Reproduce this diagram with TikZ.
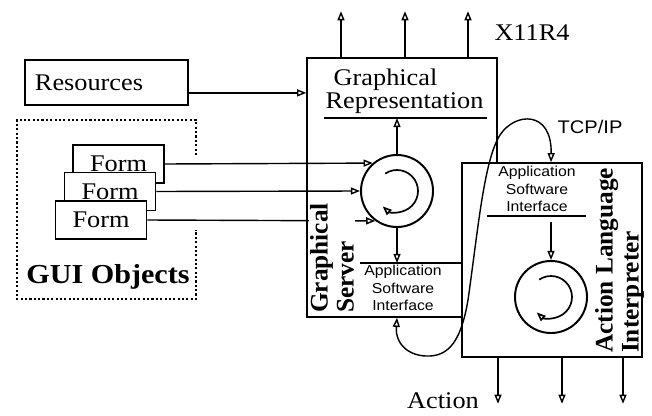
\documentclass[tikz,border=0pt]{standalone}
\usepackage{fontspec}
\setmainfont{Liberation Serif}[FakeStretch=1.1]
\setsansfont{Liberation Sans}[FakeStretch=1.1]
\newfontfamily\sidefont{Liberation Serif}
\usetikzlibrary{arrows.meta}
\tikzset{>={Triangle[open,length=6.5pt,width=5pt]}}
\newcommand{\figfont}{\fontsize{17}{16.3}\selectfont}
\tikzset{
  box/.style={draw,line width=1.1pt,inner sep=0pt},
  formbox/.style={box,fill=white,minimum width=2.275cm,minimum height=0.95cm,font=\figfont},
  loopcircle/.style={circle,draw,line width=1.4pt,minimum size=1.8cm,inner sep=0pt},
  asitext/.style={align=center,inner sep=0pt,font=\sffamily\fontsize{10.2}{12.6}\selectfont},
  sidelabel/.style={rotate=90,anchor=north west,align=left,inner sep=1pt,
    font=\sidefont\bfseries\fontsize{18}{18.5}\selectfont},
  dotframe/.style={line width=1.6pt,dash pattern=on 1.5pt off 1.6pt}
}

\begin{document}
\begin{tikzpicture}[x=0.025cm,y=-0.025cm,line width=1pt]
\useasboundingbox (0,0) rectangle (652,415);

\node[box,minimum width=4.075cm,minimum height=1.125cm,text width=3.575cm,align=left,font=\figfont] (res) at (106.5,82.5) {Resources};

% GUI objects
\draw[dotframe] (196,155) |- (17,120) |- (196,299) -- (196,230);
\node[font=\bfseries\fontsize{19.5}{20}\selectfont] (gui) at (108,277) {GUI Objects};
\node[formbox] (form1) at (118.5,164) {Form};
\node[formbox] (form2) at (110,191.5) {Form};
\node[formbox] (form3) at (101,220) {Form};

% graphical server
\node[loopcircle] (gsloop) at (397,191) {};
\draw[->,line width=1.2pt] ([shift={(-124:21)}]gsloop.center) arc[start angle=-124,end angle=133,radius=21];
\draw[->] (form1.east) -- (gsloop.131);
\draw[->] (form2.east) -- (gsloop.180);
\draw[->] (form3.east) -- (gsloop.234);
\node[sidelabel,fill=white] (gslabel) at (308,315) {Graphical\\Server};
\node[box,minimum width=4.75cm,minimum height=6.475cm] (gs) at (402,187.5) {};
\draw[->] ([yshift=-0.26cm]res.east) -- ([yshift=-0.26cm]res.east -| gs.west);

\node[anchor=west,align=left,inner sep=0pt,font=\figfont] (gsrep) at (325,91) {\hspace*{0.2cm}Graphical\\Representation};
\coordinate (gsrule) at (324,118);
\draw (gsrule) -- ++(163,0);
\draw[->] (gsloop.north) -- (gsloop.north |- gsrule);
\foreach \x in {341,405,468}
  \draw[->] (gs.north -| \x,0) -- ++(0,-46);
\node[font=\figfont] (x11) at (532,33) {X11R4};

\coordinate (gsasi) at (360,263);
\node[asitext] (gsasitext) at (403,288) {Application\\Software\\Interface};
\draw[->] (gsloop.south) -- (gsloop |- gsasi);

% action language interpreter
\node[box,fill=white,minimum width=4.5cm,minimum height=4.85cm] (ali) at (552,260) {};
\draw (gsasi) -- (gsasi -| ali.west);
\node[asitext] (aliasitext) at (537,189) {Application\\Software\\Interface};
\coordinate (alirule) at (487,216);
\draw (alirule) -- ++(99,0);
\node[loopcircle] (aliloop) at (551,297) {};
\draw[->,line width=1.2pt] ([shift={(-124:21)}]aliloop.center) arc[start angle=-124,end angle=133,radius=21];
\draw[->] ([yshift=-0.15cm]aliloop |- alirule) -- (aliloop.north);
\node[sidelabel] (alilabel) at (593,355) {Action Language\\Interpreter};
\foreach \x in {498,562,623}
  \draw[->] (ali.south -| \x,0) -- ++(0,46);
\node[font=\figfont] (action) at (443,401) {Action};

% TCP/IP link
\draw[<->] (gsloop |- gs.south) .. controls (395,345) and (410,357) .. (430,356)
  .. controls (452,355) and (462,335) .. (468,300)
  .. controls (478,230) and (484,160) .. (500,135)
  .. controls (515,112) and (552,110) .. (aliloop |- ali.north);
\node[font=\sffamily\fontsize{13}{14}\selectfont] (tcp) at (590,127) {TCP/IP};
\end{tikzpicture}
\end{document}
